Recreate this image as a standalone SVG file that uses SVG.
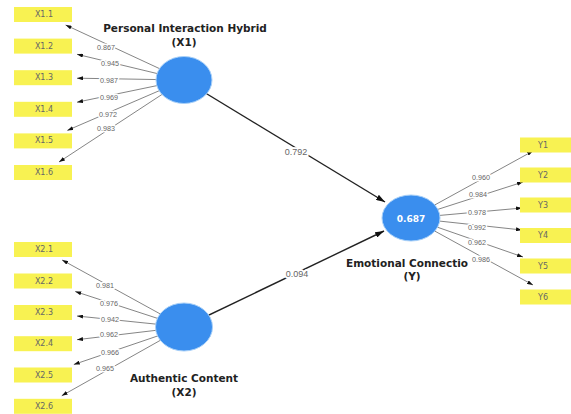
<svg xmlns="http://www.w3.org/2000/svg" width="571" height="414" viewBox="0 0 571 414">
<defs>
<marker id="ah" viewBox="0 0 6 4" refX="6" refY="2" markerWidth="6" markerHeight="4" markerUnits="userSpaceOnUse" orient="auto"><path d="M0,0 L6,2 L0,4 z" fill="#111"/></marker>
<marker id="ahb" viewBox="0 0 9 6" refX="9" refY="3" markerWidth="9" markerHeight="6" markerUnits="userSpaceOnUse" orient="auto"><path d="M0,0 L9,3 L0,6 z" fill="#111"/></marker>
</defs>
<style>
.ld{stroke:#666;stroke-width:0.8;fill:none;marker-end:url(#ah)}
.pt{stroke:#222;stroke-width:1.4;fill:none;marker-end:url(#ahb)}
.lv{font-family:"Liberation Sans",Arial,sans-serif;font-size:7.2px;fill:#666;text-anchor:middle;dominant-baseline:central;stroke:#fff;stroke-width:3;paint-order:stroke;stroke-linejoin:round}
.pv{font-family:"Liberation Sans",Arial,sans-serif;font-size:9px;fill:#666;text-anchor:middle;dominant-baseline:central;stroke:#fff;stroke-width:3.5;paint-order:stroke;stroke-linejoin:round}
.box{fill:#F8F252}
.bt{font-family:"DejaVu Sans",sans-serif;font-size:8px;fill:#666;text-anchor:middle;dominant-baseline:central}
.lat{fill:#3A8EEE;stroke:#A8D0F8;stroke-width:1}
.ttl{font-family:"DejaVu Sans",sans-serif;font-size:10.5px;font-weight:bold;fill:#222;text-anchor:middle;dominant-baseline:central}
.r2{font-family:"DejaVu Sans",sans-serif;font-size:9px;font-weight:bold;fill:#fff;text-anchor:middle;dominant-baseline:central}
</style>
<rect width="571" height="414" fill="#fff"/>
<g id="connectors">
<line class="ld" x1="184" y1="80" x2="65.6" y2="25"/>
<line class="ld" x1="184" y1="80" x2="77" y2="54.3"/>
<line class="ld" x1="184" y1="80" x2="77" y2="78.2"/>
<line class="ld" x1="184" y1="80" x2="77" y2="102.2"/>
<line class="ld" x1="184" y1="80" x2="67.3" y2="130.4"/>
<line class="ld" x1="184" y1="80" x2="59" y2="162"/>
<line class="ld" x1="184" y1="327" x2="62.1" y2="260"/>
<line class="ld" x1="184" y1="327" x2="75.2" y2="291.5"/>
<line class="ld" x1="184" y1="327" x2="77" y2="316"/>
<line class="ld" x1="184" y1="327" x2="77" y2="339.7"/>
<line class="ld" x1="184" y1="327" x2="73.8" y2="364.5"/>
<line class="ld" x1="184" y1="327" x2="61.7" y2="395.8"/>
<line class="ld" x1="411" y1="218" x2="533" y2="151"/>
<line class="ld" x1="411" y1="218" x2="523" y2="182"/>
<line class="ld" x1="411" y1="218" x2="522" y2="208"/>
<line class="ld" x1="411" y1="218" x2="522" y2="230"/>
<line class="ld" x1="411" y1="218" x2="523" y2="257"/>
<line class="ld" x1="411" y1="218" x2="533" y2="285"/>
<line class="pt" x1="184" y1="80" x2="385" y2="202"/>
<line class="pt" x1="184" y1="327" x2="384" y2="231"/>
<text class="lv" x="106" y="47">0.867</text>
<text class="lv" x="110" y="63">0.945</text>
<text class="lv" x="109" y="80">0.987</text>
<text class="lv" x="109" y="97">0.969</text>
<text class="lv" x="108" y="114">0.972</text>
<text class="lv" x="106" y="128">0.983</text>
<text class="lv" x="105" y="285">0.981</text>
<text class="lv" x="109" y="303">0.976</text>
<text class="lv" x="110" y="319">0.942</text>
<text class="lv" x="109" y="334">0.962</text>
<text class="lv" x="110" y="352">0.966</text>
<text class="lv" x="105" y="368">0.965</text>
<text class="lv" x="481" y="177">0.960</text>
<text class="lv" x="478" y="194">0.984</text>
<text class="lv" x="477" y="212">0.978</text>
<text class="lv" x="477" y="227">0.992</text>
<text class="lv" x="477" y="242">0.962</text>
<text class="pv" x="296" y="152">0.792</text>
<text class="pv" x="297" y="274">0.094</text>
</g>
<g id="X1">
<ellipse class="lat" cx="184" cy="80" rx="28" ry="23.5"/>
<text class="ttl" x="185" y="28">Personal Interaction Hybrid</text>
<text class="ttl" x="184" y="42">(X1)</text>
</g>
<g id="X2">
<ellipse class="lat" cx="184" cy="327" rx="28.5" ry="24"/>
<text class="ttl" x="184" y="378">Authentic Content</text>
<text class="ttl" x="184" y="392">(X2)</text>
</g>
<g id="Y">
<ellipse class="lat" cx="411" cy="218" rx="29" ry="23"/>
<text class="r2" x="411" y="219">0.687</text>
<text class="ttl" x="346" y="263" style="text-anchor:start">Emotional Connectio</text>
<text class="ttl" x="412" y="276">(Y)</text>
<text class="lv" x="481" y="259">0.986</text>
</g>
<g id="X1.1"><rect class="box" x="14" y="7" width="58" height="15"/><text class="bt" x="44" y="14.5">X1.1</text></g>
<g id="X1.2"><rect class="box" x="14" y="38.6" width="58" height="15"/><text class="bt" x="44" y="46.1">X1.2</text></g>
<g id="X1.3"><rect class="box" x="14" y="70.2" width="58" height="15"/><text class="bt" x="44" y="77.7">X1.3</text></g>
<g id="X1.4"><rect class="box" x="14" y="101.8" width="58" height="15"/><text class="bt" x="44" y="109.3">X1.4</text></g>
<g id="X1.5"><rect class="box" x="14" y="133.4" width="58" height="15"/><text class="bt" x="44" y="140.9">X1.5</text></g>
<g id="X1.6"><rect class="box" x="14" y="165" width="58" height="15"/><text class="bt" x="44" y="172.5">X1.6</text></g>
<g id="X2.1"><rect class="box" x="14" y="242" width="58" height="15"/><text class="bt" x="44" y="249.5">X2.1</text></g>
<g id="X2.2"><rect class="box" x="14" y="273.5" width="58" height="15"/><text class="bt" x="44" y="281">X2.2</text></g>
<g id="X2.3"><rect class="box" x="14" y="305" width="58" height="15"/><text class="bt" x="44" y="312.5">X2.3</text></g>
<g id="X2.4"><rect class="box" x="14" y="336.2" width="58" height="15"/><text class="bt" x="44" y="343.7">X2.4</text></g>
<g id="X2.5"><rect class="box" x="14" y="367.5" width="58" height="15"/><text class="bt" x="44" y="375">X2.5</text></g>
<g id="X2.6"><rect class="box" x="14" y="398.8" width="58" height="15"/><text class="bt" x="44" y="406.3">X2.6</text></g>
<g id="Y1"><rect class="box" x="520" y="137.5" width="58" height="15"/><text class="bt" x="543" y="145">Y1</text></g>
<g id="Y2"><rect class="box" x="520" y="167.5" width="58" height="15"/><text class="bt" x="543" y="175">Y2</text></g>
<g id="Y3"><rect class="box" x="520" y="197.5" width="58" height="15"/><text class="bt" x="543" y="205">Y3</text></g>
<g id="Y4"><rect class="box" x="520" y="228" width="58" height="15"/><text class="bt" x="543" y="235.5">Y4</text></g>
<g id="Y5"><rect class="box" x="520" y="258.5" width="58" height="15"/><text class="bt" x="543" y="266">Y5</text></g>
<g id="Y6"><rect class="box" x="520" y="289.5" width="58" height="15"/><text class="bt" x="543" y="297">Y6</text></g>
</svg>
